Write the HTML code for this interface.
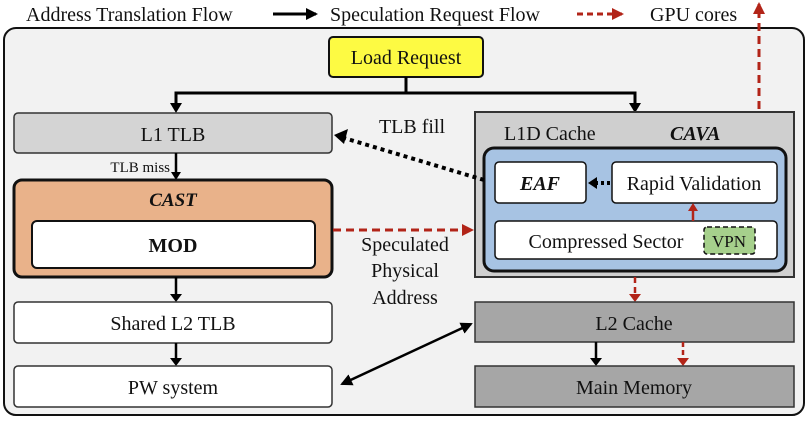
<!DOCTYPE html>
<html><head><meta charset="utf-8"><style>
html,body{margin:0;padding:0;background:#fff;}
svg{display:block;}
text{font-family:"Liberation Serif",serif;fill:#111;}
</style></head><body>
<svg width="810" height="423" viewBox="0 0 810 423" xmlns="http://www.w3.org/2000/svg">
<defs>
<marker id="ab" markerWidth="8" markerHeight="8" refX="6" refY="4" orient="auto" markerUnits="userSpaceOnUse"><path d="M0,0 L8,4 L0,8 z" fill="#000"/></marker>
<marker id="ab2" markerWidth="12" markerHeight="12" refX="10" refY="6" orient="auto-start-reverse" markerUnits="userSpaceOnUse"><path d="M0,0 L12,6 L0,12 z" fill="#000"/></marker>
<marker id="ar" markerWidth="12" markerHeight="12" refX="10" refY="6" orient="auto" markerUnits="userSpaceOnUse"><path d="M0,0 L12,6 L0,12 z" fill="#b22418"/></marker>
</defs>
<!-- legend -->
<text x="26" y="21" font-size="20">Address Translation Flow</text>
<line x1="273" y1="14" x2="316" y2="14" stroke="#000" stroke-width="3" marker-end="url(#ab2)"/>
<text x="330" y="21" font-size="20">Speculation Request Flow</text>
<line x1="577" y1="14" x2="622" y2="14" stroke="#b22418" stroke-width="3" stroke-dasharray="6,4" marker-end="url(#ar)"/>
<text x="650" y="21" font-size="20">GPU cores</text>
<!-- outer -->
<rect x="4" y="28" width="800" height="387" rx="12" fill="#f2f2f2" stroke="#111" stroke-width="2"/>
<!-- GPU arrow -->
<line x1="759" y1="148" x2="759" y2="4" stroke="#b22418" stroke-width="3" stroke-dasharray="8,5" marker-end="url(#ar)"/>
<!-- Load request -->
<rect x="329" y="37" width="154" height="40" rx="4" fill="#fdfa43" stroke="#111" stroke-width="2"/>
<text x="406" y="64" font-size="20" text-anchor="middle">Load Request</text>
<polyline points="406,77 406,93 176,93 176,106" fill="none" stroke="#000" stroke-width="3"/>
<polyline points="406,93 635,93 635,106" fill="none" stroke="#000" stroke-width="3"/>
<path d="M170,103 L182,103 L176,113 z"/><path d="M629,103 L641,103 L635,113 z"/>
<!-- L1 TLB -->
<rect x="14" y="113" width="318" height="40" rx="4" fill="#d4d4d4" stroke="#333" stroke-width="1.5"/>
<text x="173" y="141" font-size="20" text-anchor="middle">L1 TLB</text>
<line x1="176" y1="153" x2="176" y2="174" stroke="#000" stroke-width="2.5"/>
<path d="M171,172 L181,172 L176,180 z"/>
<text x="170" y="172" font-size="15" text-anchor="end">TLB miss</text>
<!-- CAST -->
<rect x="14" y="180" width="318" height="97" rx="8" fill="#e9b28a" stroke="#111" stroke-width="3"/>
<text x="173" y="206" font-size="19" font-weight="bold" font-style="italic" text-anchor="middle">CAST</text>
<rect x="32" y="221" width="283" height="47" rx="5" fill="#fff" stroke="#111" stroke-width="2"/>
<text x="173" y="252" font-size="20" font-weight="bold" text-anchor="middle">MOD</text>
<line x1="176" y1="277" x2="176" y2="296" stroke="#000" stroke-width="2.5"/>
<path d="M170,294 L182,294 L176,302 z"/>
<rect x="14" y="302" width="318" height="41" rx="4" fill="#fff" stroke="#333" stroke-width="1.5"/>
<text x="173" y="330" font-size="20" text-anchor="middle">Shared L2 TLB</text>
<line x1="176" y1="343" x2="176" y2="360" stroke="#000" stroke-width="2.5"/>
<path d="M170,358 L182,358 L176,366 z"/>
<rect x="14" y="366" width="318" height="41" rx="4" fill="#fff" stroke="#333" stroke-width="1.5"/>
<text x="173" y="394" font-size="20" text-anchor="middle">PW system</text>
<!-- L1D -->
<rect x="475" y="112" width="319" height="165" fill="#cfcfcf" stroke="#333" stroke-width="2"/>
<text x="504" y="140" font-size="20">L1D Cache</text>
<text x="670" y="140" font-size="20" font-weight="bold" font-style="italic">CAVA</text>
<rect x="484" y="148" width="302" height="123" rx="10" fill="#a7c3e3" stroke="#111" stroke-width="3"/>
<rect x="495" y="162" width="91" height="41" rx="4" fill="#fff" stroke="#111" stroke-width="1.5"/>
<text x="540" y="190" font-size="20" font-weight="bold" font-style="italic" text-anchor="middle">EAF</text>
<rect x="612" y="162" width="165" height="41" rx="4" fill="#fff" stroke="#111" stroke-width="1.5"/>
<text x="694" y="190" font-size="20" text-anchor="middle">Rapid Validation</text>
<line x1="610" y1="183" x2="596" y2="183" stroke="#000" stroke-width="4" stroke-dasharray="3,3"/>
<path d="M597,177 L597,189 L588,183 z"/>
<rect x="495" y="221" width="282" height="38" rx="4" fill="#fff" stroke="#111" stroke-width="1.5"/>
<text x="606" y="248" font-size="20" text-anchor="middle">Compressed Sector</text>
<rect x="704" y="227" width="51" height="27" rx="3" fill="#a6d08c" stroke="#111" stroke-width="1.5" stroke-dasharray="5,3"/>
<text x="729" y="247" font-size="17" text-anchor="middle">VPN</text>
<line x1="693" y1="221" x2="693" y2="210" stroke="#b22418" stroke-width="2.5"/>
<path d="M688,211 L698,211 L693,203 z" fill="#b22418"/>
<!-- TLB fill -->
<line x1="484" y1="180" x2="344" y2="138" stroke="#000" stroke-width="4" stroke-dasharray="4,4"/>
<path d="M334,135 L348,129 L344,144 z"/>
<text x="412" y="133" font-size="20" text-anchor="middle">TLB fill</text>
<!-- Speculated -->
<line x1="333" y1="230" x2="465" y2="230" stroke="#b22418" stroke-width="3" stroke-dasharray="8,5"/>
<path d="M462,224 L474,230 L462,236 z" fill="#b22418"/>
<text x="405" y="251" font-size="20" text-anchor="middle">Speculated</text>
<text x="405" y="277" font-size="20" text-anchor="middle">Physical</text>
<text x="405" y="304" font-size="20" text-anchor="middle">Address</text>
<!-- L2 -->
<line x1="635" y1="277" x2="635" y2="295" stroke="#b22418" stroke-width="2.5" stroke-dasharray="6,4"/>
<path d="M629,294 L641,294 L635,302 z" fill="#b22418"/>
<rect x="475" y="302" width="319" height="40" fill="#a6a6a6" stroke="#333" stroke-width="1.5"/>
<text x="634" y="330" font-size="20" text-anchor="middle">L2 Cache</text>
<line x1="596" y1="342" x2="596" y2="360" stroke="#000" stroke-width="2.5"/>
<path d="M590,358 L602,358 L596,366 z"/>
<line x1="683" y1="342" x2="683" y2="360" stroke="#b22418" stroke-width="2.5" stroke-dasharray="5,3"/>
<path d="M677,358 L689,358 L683,366 z" fill="#b22418"/>
<rect x="475" y="366" width="319" height="41" fill="#a6a6a6" stroke="#333" stroke-width="1.5"/>
<text x="634" y="394" font-size="20" text-anchor="middle">Main Memory</text>
<line x1="342" y1="384" x2="471" y2="324" stroke="#000" stroke-width="2.5" marker-start="url(#ab2)" marker-end="url(#ab2)"/>
</svg>
</body></html>
